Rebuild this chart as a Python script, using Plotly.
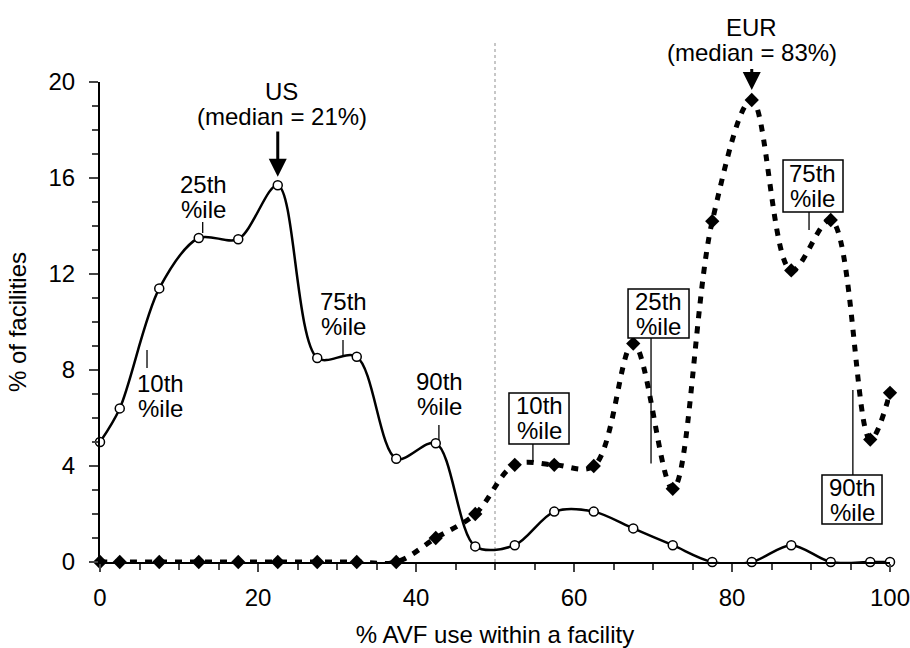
import plotly.graph_objects as go

# ---- data ----
avf_pct = [0, 2.5, 7.5, 12.5, 17.5, 22.5, 27.5, 32.5, 37.5, 42.5, 47.5,
           52.5, 57.5, 62.5, 67.5, 72.5, 77.5, 82.5, 87.5, 92.5, 97.5, 100]
us_facilities = [5.0, 6.4, 11.4, 13.5, 13.45, 15.7, 8.5, 8.55, 4.3, 4.95, 0.65,
                 0.7, 2.1, 2.1, 1.4, 0.7, 0.0, 0.0, 0.7, 0.0, 0.0, 0.0]
eur_facilities = [0.0, 0.0, 0.0, 0.0, 0.0, 0.0, 0.0, 0.0, 0.0, 1.0, 2.0,
                  4.05, 4.05, 4.0, 9.1, 3.05, 14.2, 19.25, 12.15, 14.25, 5.1, 7.05]

x_ticks = [0, 20, 40, 60, 80, 100]
y_ticks = [0, 4, 8, 12, 16, 20]

FONT = "Liberation Sans, Arial, Helvetica, sans-serif"
FS = 24
GAP = 25  # pixel gap between the two lines of a label

fig = go.Figure()

fig.add_trace(go.Scatter(
    x=avf_pct, y=eur_facilities, mode="lines+markers", name="EUR",
    line=dict(color="black", width=5, dash="7px,8px", shape="spline", smoothing=1),
    marker=dict(symbol="diamond", size=11, color="black"),
    cliponaxis=False, showlegend=False))

fig.add_trace(go.Scatter(
    x=avf_pct, y=us_facilities, mode="lines+markers", name="US",
    line=dict(color="black", width=2.5, shape="spline", smoothing=0.9),
    marker=dict(symbol="circle", size=9, color="white",
                line=dict(color="black", width=1.5)),
    cliponaxis=False, showlegend=False))

shapes = []
# dotted divider at 50%
shapes.append(dict(type="line", xref="x", yref="paper", x0=50, x1=50, y0=0, y1=1.0875,
                   line=dict(color="#b5b5b5", width=1.5, dash="dot"), layer="below"))

# percentile tick lines (x, y0, y1)
pct_lines = [
    (13.0, 14.17, 13.71), (5.95, 8.83, 8.08), (30.76, 9.25, 8.63), (42.9, 5.71, 5.08),
    (54.8, 4.92, 4.17), (69.75, 9.33, 4.1), (89.75, 14.58, 13.83), (95.3, 3.625, 7.17),
]
for xx, a, b in pct_lines:
    shapes.append(dict(type="line", xref="x", yref="y", x0=xx, x1=xx, y0=a, y1=b,
                       line=dict(color="black", width=1.3)))

# boxes for the EUR percentile labels
eur_boxes = [
    (51.77, 59.37, 4.92, 7.04), (66.84, 74.56, 9.33, 11.38),
    (86.46, 94.05, 14.58, 16.75), (91.39, 98.99, 1.58, 3.625),
]
for x0, x1, y0, y1 in eur_boxes:
    shapes.append(dict(type="rect", xref="x", yref="y", x0=x0, x1=x1, y0=y0, y1=y1,
                       line=dict(color="black", width=1.5), fillcolor="white", layer="above"))

annotations = []
def txt2(x, y, l1, l2, yref="y"):
    for t, s in ((l1, GAP / 2), (l2, -GAP / 2)):
        annotations.append(dict(x=x, y=y, xref="x", yref=yref, text=t, showarrow=False,
                                xanchor="center", yanchor="middle", yshift=s,
                                font=dict(family=FONT, size=FS, color="black")))

txt2(23.0, 19.1, "US", "(median = 21%)")
txt2(82.5, 1.0875, "EUR", "(median = 83%)", yref="paper")
txt2(13.1, 15.2, "25th", "%ile")
txt2(7.6, 6.9, "10th", "%ile")
txt2(30.8, 10.33, "75th", "%ile")
txt2(43.0, 7.0, "90th", "%ile")
txt2(55.57, 5.98, "10th", "%ile")
txt2(70.7, 10.35, "25th", "%ile")
txt2(90.25, 15.67, "75th", "%ile")
txt2(95.2, 2.6, "90th", "%ile")

# median arrows
for xx, tail, tip in [(22.5, 18.0, 16.05), (82.5, 20.6, 19.67)]:
    annotations.append(dict(x=xx, y=tip, ax=xx, ay=tail, xref="x", yref="y",
                            axref="x", ayref="y", text="", showarrow=True,
                            arrowhead=2, arrowsize=1.2, arrowwidth=3, arrowcolor="black",
                            standoff=0))

fig.update_layout(
    width=910, height=648,
    margin=dict(l=100, r=20, t=82, b=86),
    paper_bgcolor="white", plot_bgcolor="white",
    font=dict(family=FONT, size=FS, color="black"),
    shapes=shapes, annotations=annotations,
    xaxis=dict(range=[0, 100], tickvals=x_ticks, ticks="outside", ticklen=8, tickwidth=1.5,
               showline=True, linewidth=2, linecolor="black", showgrid=False, zeroline=False,
               tickfont=dict(size=FS), ticklabelstandoff=5, automargin=False,
               ticklabeloverflow="allow",
               minor=dict(dtick=5, ticks="outside", ticklen=6, tickwidth=1.5, showgrid=False),
               title=dict(text="% AVF use within a facility", font=dict(size=FS), standoff=24)),
    yaxis=dict(range=[0, 20], tickvals=y_ticks, ticks="outside", ticklen=9, tickwidth=1.5,
               showline=True, linewidth=2, linecolor="black", showgrid=False, zeroline=False,
               tickfont=dict(size=FS), ticklabelstandoff=9, automargin=False,
               ticklabeloverflow="allow",
               minor=dict(dtick=1, ticks="outside", ticklen=6, tickwidth=1.5, showgrid=False),
               title=dict(text="% of facilities", font=dict(size=FS), standoff=15)),
)

# remove the default page margin so the 910x648 figure fills the window exactly
fig.write_html("out.html", config={"displayModeBar": False},
               post_script="document.body.style.margin='0';document.body.style.overflow='hidden';")
